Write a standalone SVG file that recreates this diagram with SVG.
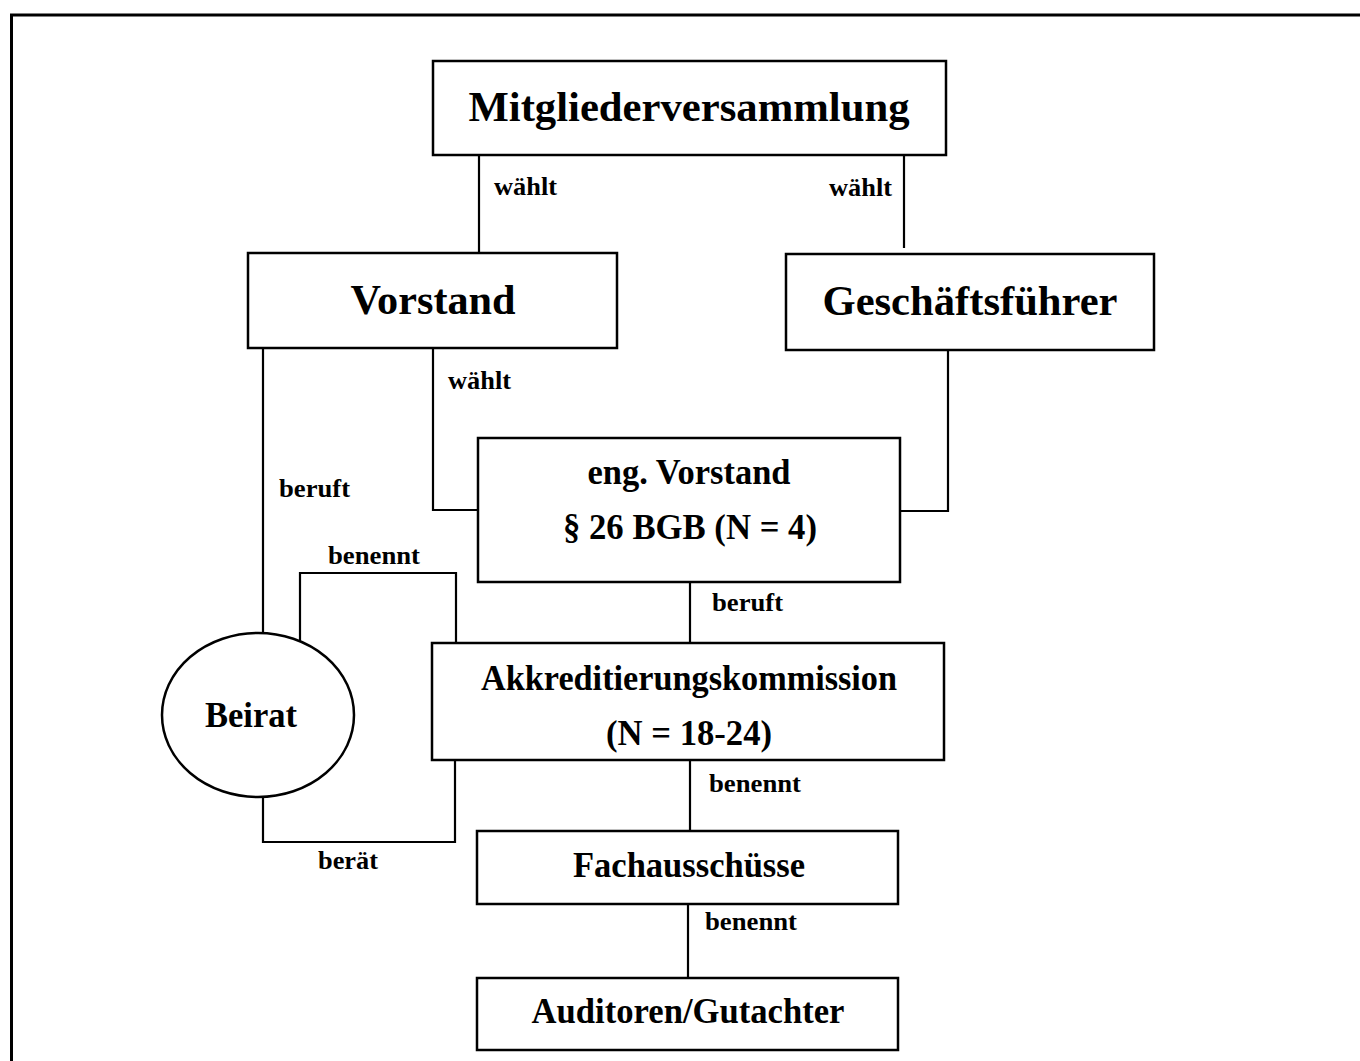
<svg xmlns="http://www.w3.org/2000/svg" width="1360" height="1061" viewBox="0 0 1360 1061">
<style>
.box{fill:#fff;stroke:#000;stroke-width:2.5}
.ln{fill:none;stroke:#000;stroke-width:2.2}
.t{font-family:"Liberation Serif","Times New Roman",serif;font-weight:bold;fill:#000;text-anchor:middle}
.lb{font-family:"Liberation Serif","Times New Roman",serif;font-weight:bold;fill:#000;font-size:25px}
</style>
<rect width="1360" height="1061" fill="#fff"/>
<path d="M11.5 1061 V15 H1360" fill="none" stroke="#000" stroke-width="3"/>
<g id="connectors">
<path class="ln" d="M479 155 V253"/>
<path class="ln" d="M904 155 V248"/>
<path class="ln" d="M263 348 V633"/>
<path class="ln" d="M433 348 V510 H478"/>
<path class="ln" d="M948 350 V511 H900"/>
<path class="ln" d="M690 582 V643"/>
<path class="ln" d="M690 760 V831"/>
<path class="ln" d="M688 904 V978"/>
<path class="ln" d="M300 641 V573 H456 V643"/>
<path class="ln" d="M263 797 V842 H455 V760"/>
<text class="lb" x="494" y="195" textLength="63" lengthAdjust="spacingAndGlyphs">wählt</text>
<text class="lb" x="829" y="196" textLength="63" lengthAdjust="spacingAndGlyphs">wählt</text>
<text class="lb" x="448" y="389" textLength="63" lengthAdjust="spacingAndGlyphs">wählt</text>
<text class="lb" x="279" y="497" textLength="71" lengthAdjust="spacingAndGlyphs">beruft</text>
<text class="lb" x="328" y="564" textLength="92" lengthAdjust="spacingAndGlyphs">benennt</text>
<text class="lb" x="712" y="611" textLength="71" lengthAdjust="spacingAndGlyphs">beruft</text>
<text class="lb" x="709" y="792" textLength="92" lengthAdjust="spacingAndGlyphs">benennt</text>
<text class="lb" x="318" y="869" textLength="60" lengthAdjust="spacingAndGlyphs">berät</text>
<text class="lb" x="705" y="930" textLength="92" lengthAdjust="spacingAndGlyphs">benennt</text>
</g>
<g id="mitgliederversammlung">
<rect class="box" x="433" y="61" width="513" height="94"/>
<text class="t" x="689" y="121" font-size="43" textLength="441" lengthAdjust="spacingAndGlyphs">Mitgliederversammlung</text>
</g>
<g id="vorstand">
<rect class="box" x="248" y="253" width="369" height="95"/>
<text class="t" x="433" y="314" font-size="42" textLength="165" lengthAdjust="spacingAndGlyphs">Vorstand</text>
</g>
<g id="geschaeftsfuehrer">
<rect class="box" x="786" y="254" width="368" height="96"/>
<text class="t" x="970" y="315" font-size="42" textLength="295" lengthAdjust="spacingAndGlyphs">Geschäftsführer</text>
</g>
<g id="eng-vorstand">
<rect class="box" x="478" y="438" width="422" height="144"/>
<text class="t" x="689" y="484" font-size="35" textLength="203" lengthAdjust="spacingAndGlyphs">eng. Vorstand</text>
<text class="t" x="690" y="539" font-size="35" textLength="254" lengthAdjust="spacingAndGlyphs">§ 26 BGB (N = 4)</text>
</g>
<g id="beirat">
<ellipse class="box" cx="258" cy="715" rx="96" ry="82"/>
<text class="t" x="251" y="727" font-size="36" textLength="92" lengthAdjust="spacingAndGlyphs">Beirat</text>
</g>
<g id="akkreditierungskommission">
<rect class="box" x="432" y="643" width="512" height="117"/>
<text class="t" x="689" y="690" font-size="35" textLength="416" lengthAdjust="spacingAndGlyphs">Akkreditierungskommission</text>
<text class="t" x="689" y="745" font-size="35" textLength="166" lengthAdjust="spacingAndGlyphs">(N = 18-24)</text>
</g>
<g id="fachausschuesse">
<rect class="box" x="477" y="831" width="421" height="73"/>
<text class="t" x="689" y="877" font-size="35" textLength="232" lengthAdjust="spacingAndGlyphs">Fachausschüsse</text>
</g>
<g id="auditoren">
<rect class="box" x="477" y="978" width="421" height="72"/>
<text class="t" x="688" y="1023" font-size="35" textLength="313" lengthAdjust="spacingAndGlyphs">Auditoren/Gutachter</text>
</g>
</svg>
